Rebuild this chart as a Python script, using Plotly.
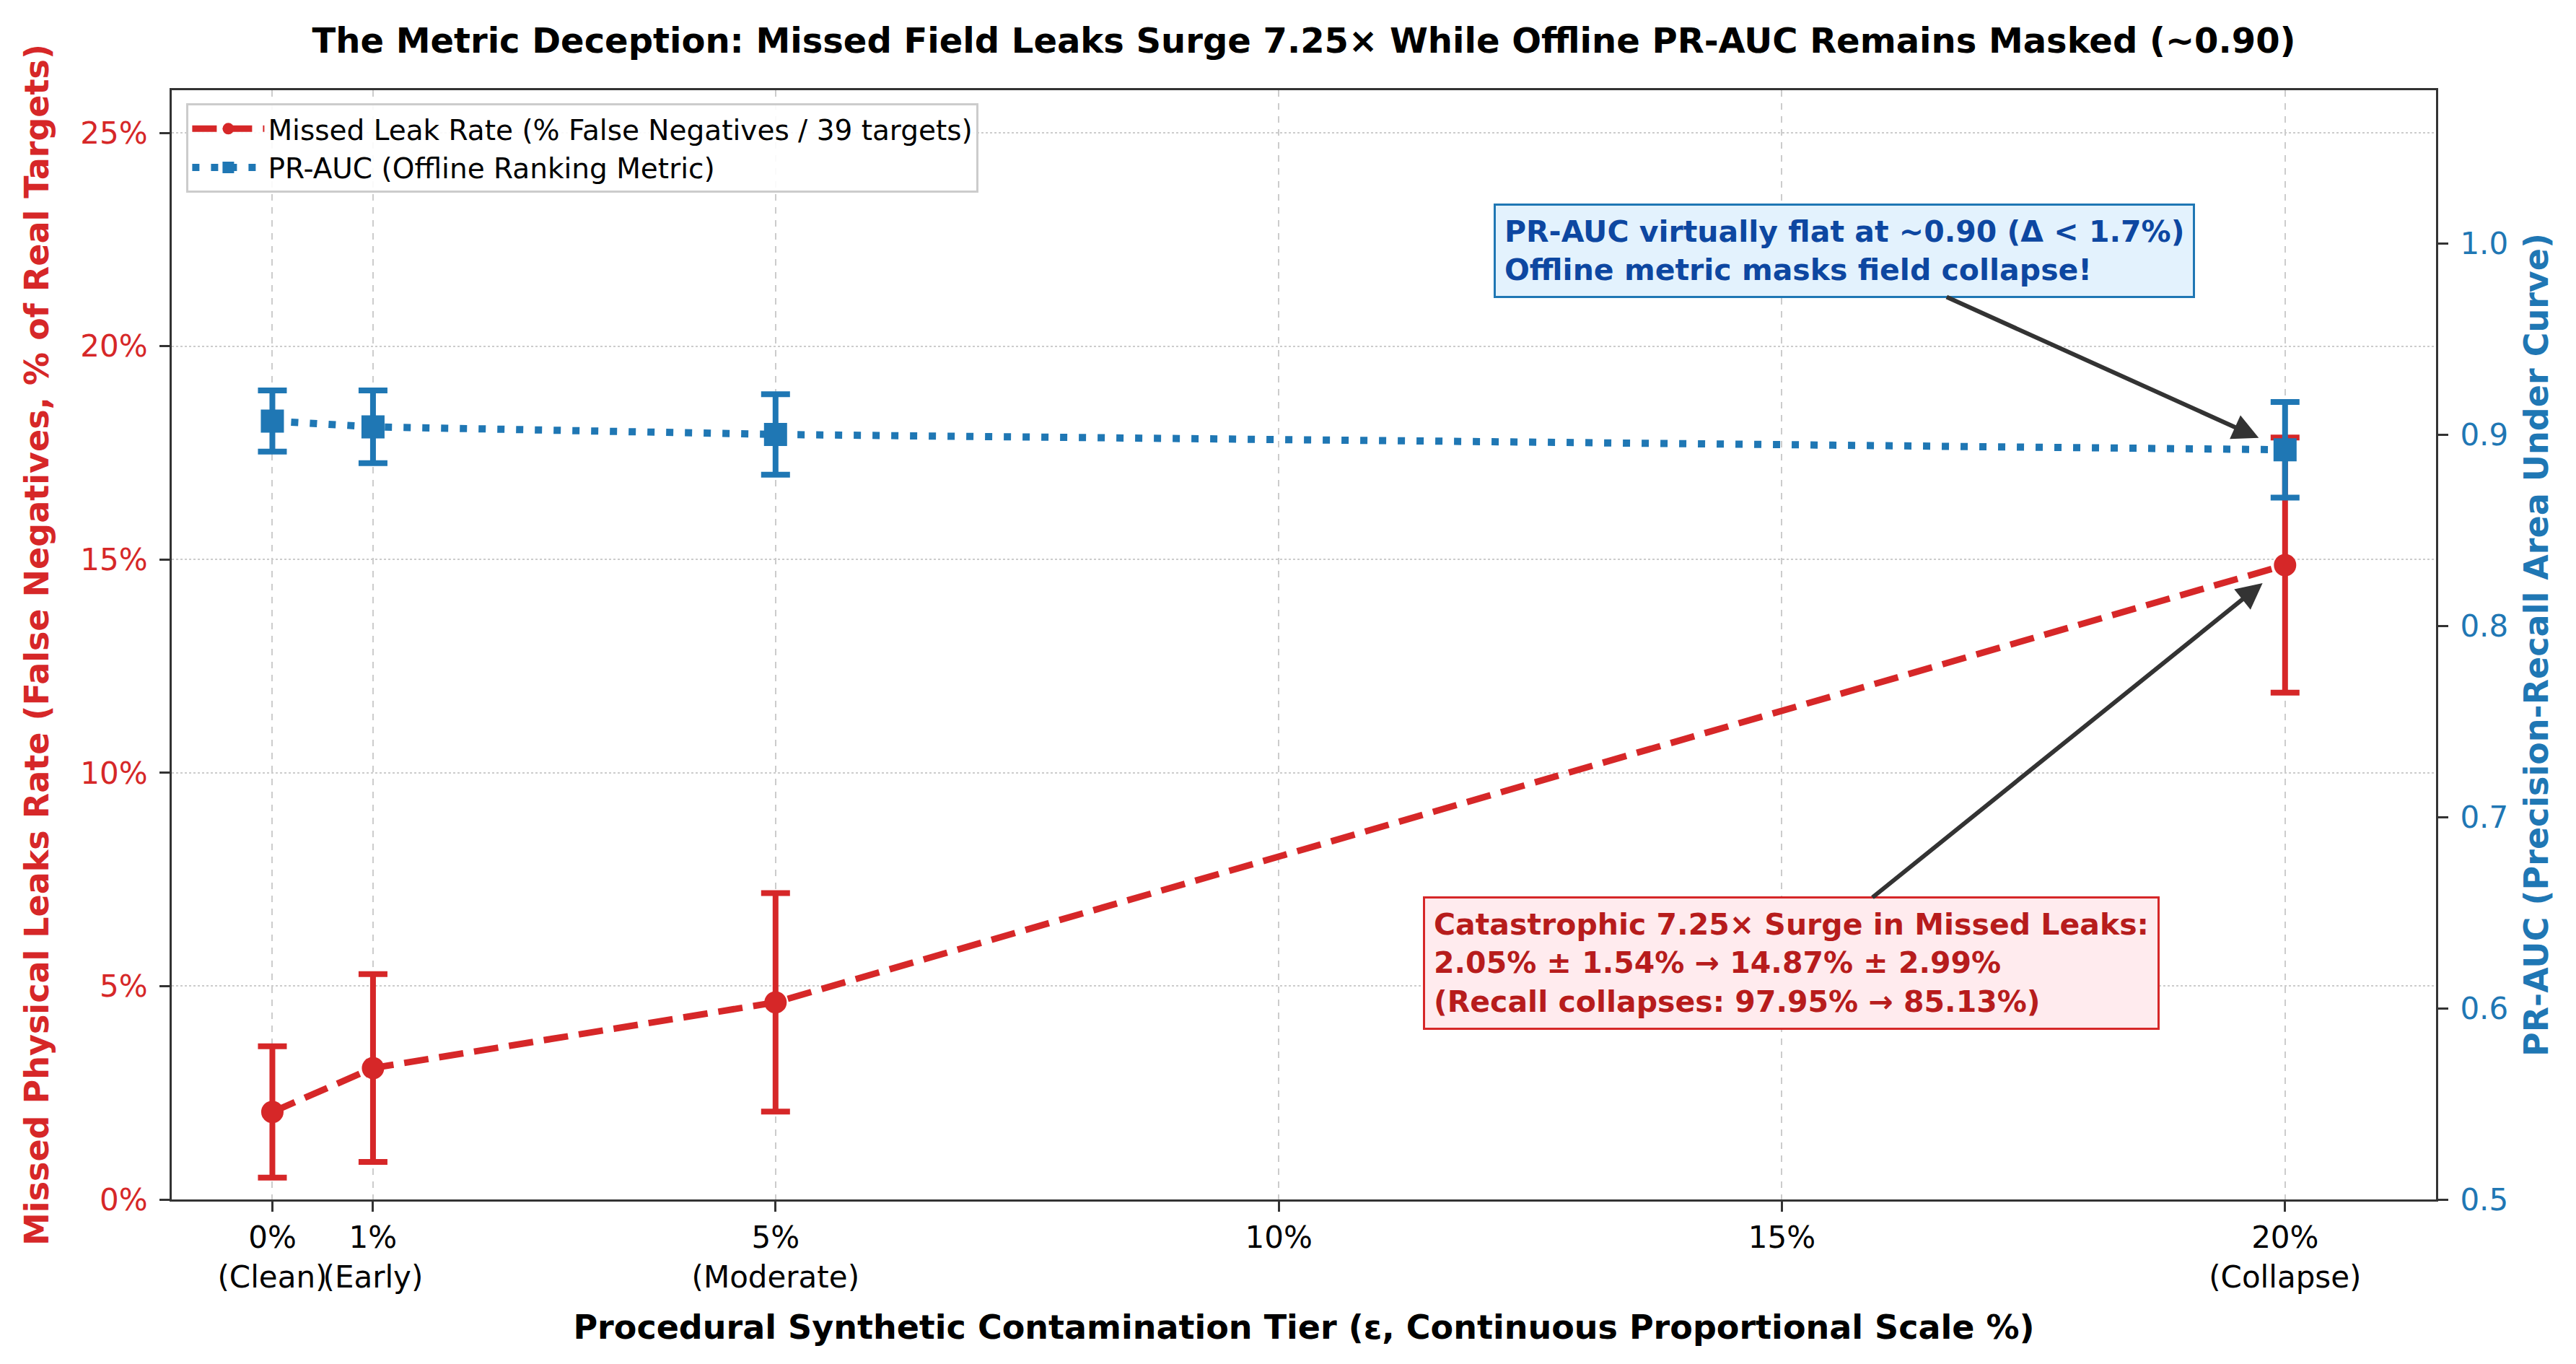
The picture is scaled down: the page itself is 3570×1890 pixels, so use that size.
import plotly.graph_objects as go

# contamination tiers (epsilon, % synthetic contamination)
tiers = [0, 1, 5, 20]
x_tick_vals = [0, 1, 5, 10, 15, 20]
x_tick_text = ["0%<br>(Clean)", "1%<br>(Early)", "5%<br>(Moderate)", "10%", "15%", "20%<br>(Collapse)"]

# missed leak rate (% false negatives over 39 real targets)
missed_rate = [2.05, 3.08, 4.62, 14.87]
missed_std = [1.54, 2.20, 2.56, 2.99]

# offline PR-AUC
pr_auc = [0.907, 0.904, 0.900, 0.892]
pr_auc_std = [0.016, 0.019, 0.021, 0.025]

left_ticks = [0, 5, 10, 15, 20, 25]
left_tick_text = ["0%", "5%", "10%", "15%", "20%", "25%"]
right_ticks = [0.5, 0.6, 0.7, 0.8, 0.9, 1.0]

RED = "#d62728"
BLUE = "#1f77b4"
AXIS = "#333333"
FONT = "DejaVu Sans"

fig = go.Figure()

# Missed leak rate on the left axis
fig.add_trace(
    go.Scatter(
        x=tiers,
        y=missed_rate,
        error_y=dict(type="data", array=missed_std, color=RED, thickness=8, width=20),
        mode="lines+markers",
        line=dict(color=RED, width=9, dash="34px,15px"),
        marker=dict(symbol="circle", size=31, color=RED),
        name="Missed Leak Rate (% False Negatives / 39 targets)",
        yaxis="y",
    )
)

# PR-AUC on the right axis
fig.add_trace(
    go.Scatter(
        x=tiers,
        y=pr_auc,
        error_y=dict(type="data", array=pr_auc_std, color=BLUE, thickness=8, width=20),
        mode="lines+markers",
        line=dict(color=BLUE, width=10, dash="10px,16px"),
        marker=dict(symbol="square", size=32, color=BLUE),
        name="PR-AUC (Offline Ranking Metric)",
        yaxis="y2",
    )
)

# Callout boxes
fig.add_annotation(
    x=tiers[-1], y=pr_auc[-1], xref="x", yref="y2",
    ax=15.62, ay=0.996, axref="x", ayref="y2",
    text="<b>PR-AUC virtually flat at ~0.90 (Δ &lt; 1.7%)<br>Offline metric masks field collapse!</b>",
    align="left",
    font=dict(family=FONT, size=41, color="#0d47a1"),
    bgcolor="#e3f2fd", bordercolor=BLUE, borderwidth=3, borderpad=12,
    showarrow=True, arrowhead=2, arrowsize=1.2, arrowwidth=6, arrowcolor=AXIS, standoff=40,
)
fig.add_annotation(
    x=tiers[-1], y=missed_rate[-1], xref="x", yref="y",
    ax=15.09, ay=5.54, axref="x", ayref="y",
    text="<b>Catastrophic 7.25× Surge in Missed Leaks:<br>2.05% ± 1.54% → 14.87% ± 2.99%<br>(Recall collapses: 97.95% → 85.13%)</b>",
    align="left",
    font=dict(family=FONT, size=41, color="#b71c1c"),
    bgcolor="#ffebee", bordercolor=RED, borderwidth=3, borderpad=12,
    showarrow=True, arrowhead=2, arrowsize=1.2, arrowwidth=6, arrowcolor=AXIS, standoff=40,
)

fig.update_layout(
    width=3570,
    height=1890,
    paper_bgcolor="white",
    plot_bgcolor="white",
    font=dict(family=FONT, size=43, color="black"),
    margin=dict(l=230, r=202, t=117, b=236),
    title=dict(
        text="The Metric Deception: Missed Field Leaks Surge 7.25× While Offline PR-AUC Remains Masked (~0.90)",
        font=dict(family=FONT, size=48, weight="bold", color="black"),
        x=0.5, xref="paper", xanchor="center",
        y=1 - 48 / 1890, yref="container", yanchor="middle",
    ),
    xaxis=dict(
        range=[-1, 21.5],
        tickvals=x_tick_vals,
        ticktext=x_tick_text,
        tickangle=0,
        tickfont=dict(size=42, color="black"),
        ticks="outside", ticklen=14, tickwidth=3, tickcolor=AXIS,
        showline=True, linecolor=AXIS, linewidth=3, mirror=True,
        showgrid=True, gridcolor="#cccccc", gridwidth=2, griddash="dash",
        zeroline=False,
        title=dict(
            text="Procedural Synthetic Contamination Tier (ε, Continuous Proportional Scale %)",
            font=dict(size=46, weight="bold", color="black"),
            standoff=30,
        ),
    ),
    yaxis=dict(
        range=[0, 26],
        tickvals=left_ticks,
        ticktext=left_tick_text,
        tickfont=dict(size=42, color=RED),
        ticks="outside", ticklen=14, tickwidth=3, tickcolor=AXIS,
        ticklabelstandoff=8,
        showline=True, linecolor=AXIS, linewidth=3,
        showgrid=True, gridcolor="#cccccc", gridwidth=2, griddash="dot",
        zeroline=False,
        title=dict(
            text="Missed Physical Leaks Rate (False Negatives, % of Real Targets)",
            font=dict(size=46, weight="bold", color=RED),
            standoff=30,
        ),
    ),
    yaxis2=dict(
        range=[0.5, 1.08],
        tickvals=right_ticks,
        tickformat=".1f",
        tickfont=dict(size=42, color=BLUE),
        ticks="outside", ticklen=14, tickwidth=3, tickcolor=AXIS,
        ticklabelstandoff=8,
        showline=True, linecolor=AXIS, linewidth=3,
        overlaying="y", side="right",
        showgrid=False, zeroline=False,
        title=dict(
            text="PR-AUC (Precision-Recall Area Under Curve)",
            font=dict(size=46, weight="bold", color=BLUE),
            standoff=24,
        ),
    ),
    legend=dict(
        x=0.0065, y=0.988, xanchor="left", yanchor="top",
        bgcolor="rgba(255,255,255,0.9)", bordercolor="#cccccc", borderwidth=3,
        font=dict(size=39, color="black"),
        itemwidth=100,
        tracegroupgap=4,
    ),
    showlegend=True,
)

fig.write_html("out.html")
